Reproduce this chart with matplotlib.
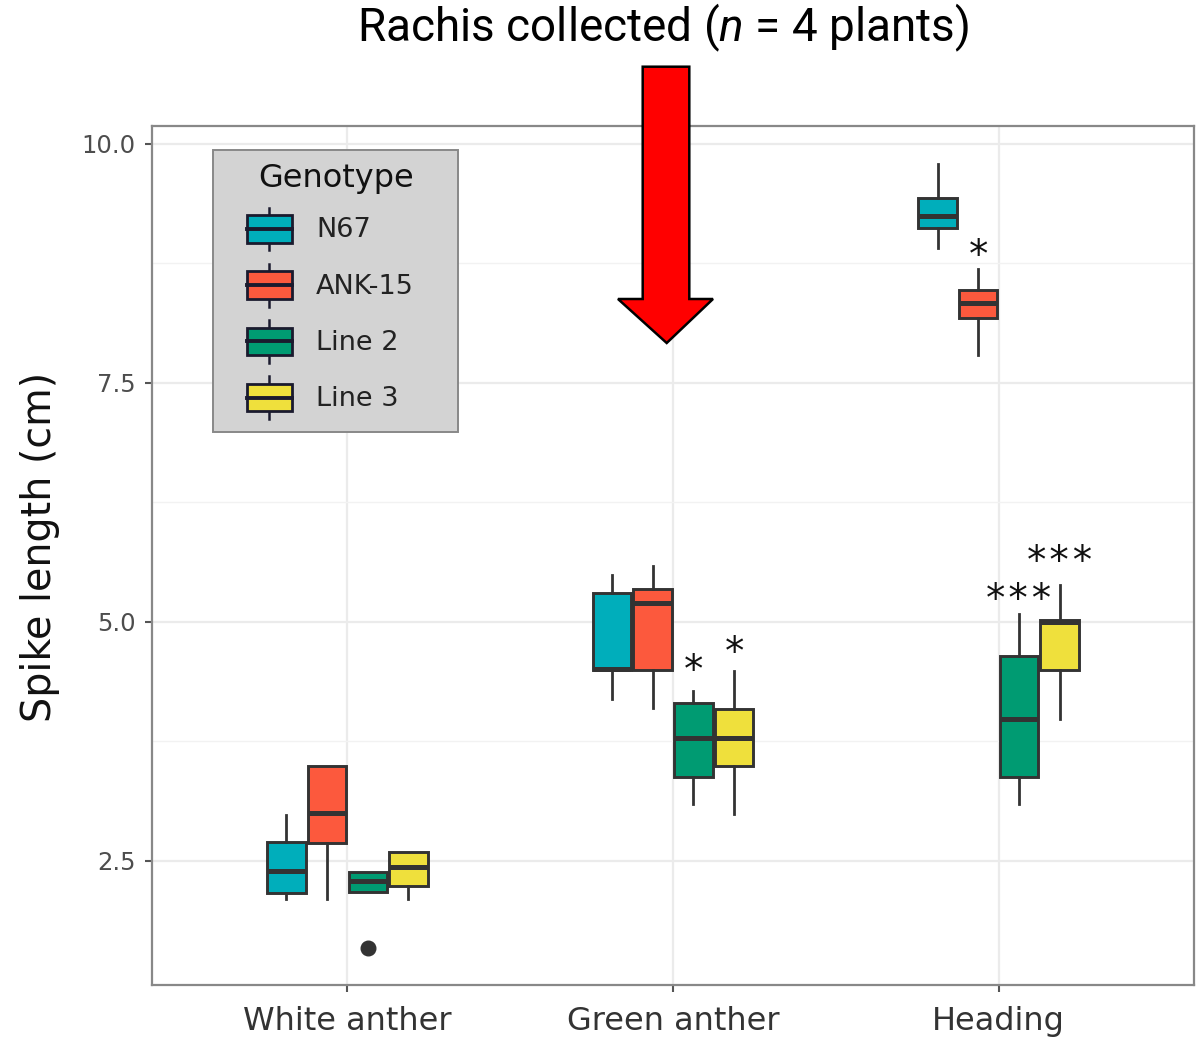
import matplotlib
matplotlib.use("Agg")
import matplotlib.pyplot as plt
from matplotlib.legend_handler import HandlerBase
from matplotlib.patches import Rectangle, Polygon
from matplotlib.lines import Line2D

# ---------------- data ----------------
stages = ["White anther", "Green anther", "Heading"]
genotypes = ["N67", "ANK-15", "Line 2", "Line 3"]
colors = ["#00AEBB", "#FC593D", "#009B72", "#EFE03C"]

# five-number summaries per stage: (whisker low, Q1, median, Q3, whisker high)
n67 = [(2.10, 2.16, 2.40, 2.70, 2.98), (4.19, 4.50, 4.51, 5.30, 5.49), (8.91, 9.12, 9.25, 9.43, 9.79)]
ank15 = [(2.10, 2.69, 3.00, 3.49, 3.49), (4.10, 4.50, 5.20, 5.34, 5.59), (7.79, 8.18, 8.34, 8.47, 8.69)]
line2 = [(2.18, 2.18, 2.29, 2.39, 2.39), (3.10, 3.38, 3.79, 4.15, 4.28), (3.10, 3.38, 3.99, 4.64, 5.08)]
line3 = [(2.10, 2.24, 2.44, 2.59, 2.59), (2.99, 3.49, 3.79, 4.09, 4.49), (3.99, 4.50, 5.00, 5.02, 5.39)]
summaries = [n67, ank15, line2, line3]
outliers = {(2, 0): [1.59]}  # (genotype index, stage index): values

# significance labels: (stage index, genotype index, label, label height)
sig_stage = [1, 1, 2, 2, 2]
sig_geno = [2, 3, 1, 2, 3]
sig_text = ["*", "*", "*", "***", "***"]
sig_y = [4.59, 4.78, 8.93, 5.33, 5.735]

yticks = [2.5, 5.0, 7.5, 10.0]
ytick_labels = ["2.5", "5.0", "7.5", "10.0"]
title_text = "Rachis collected ($n$ = 4 plants)"

# ---------------- style ----------------
plt.rcParams["font.family"] = ["DejaVu Sans"]
plt.rcParams["mathtext.fontset"] = "custom"
plt.rcParams["mathtext.rm"] = "Roboto"
plt.rcParams["mathtext.it"] = "Roboto:italic"

W, H, DPI = 1202, 1040, 100
fig = plt.figure(figsize=(W / DPI, H / DPI), dpi=DPI)
AX_L, AX_R, AX_T, AX_B = 152, 1194, 125.7, 985
ax = fig.add_axes([AX_L / W, 1 - AX_B / H, (AX_R - AX_L) / W, (AX_B - AX_T) / H])


def ax_frac(px, py):
    return (px - AX_L) / (AX_R - AX_L), (AX_B - py) / (AX_B - AX_T)


edge = "#333333"
dodge = [-0.1875, -0.0625, 0.0625, 0.1875]
bw = 0.118

for gi, (g, summ) in enumerate(zip(genotypes, summaries)):
    stats = []
    for si, s in enumerate(summ):
        stats.append(dict(whislo=s[0], q1=s[1], med=s[2], q3=s[3], whishi=s[4],
                          fliers=outliers.get((gi, si), []), label=g))
    pos = [si + 1 + dodge[gi] for si in range(len(summ))]
    ax.bxp(stats, positions=pos, widths=bw, patch_artist=True, showcaps=False,
           boxprops=dict(facecolor=colors[gi], edgecolor=edge, linewidth=2.1),
           medianprops=dict(color=edge, linewidth=3.6, solid_capstyle="butt"),
           whiskerprops=dict(color=edge, linewidth=2.0),
           flierprops=dict(marker="o", markersize=10.5, markerfacecolor=edge,
                           markeredgecolor=edge),
           manage_ticks=False, zorder=3)

for si, gi, t, yv in zip(sig_stage, sig_geno, sig_text, sig_y):
    ax.annotate(t, xy=(si + 1 + dodge[gi], yv), xytext=(0, -15), textcoords="offset points",
                ha="center", va="baseline", fontsize=28, family="DejaVu Sans Mono",
                color="#111111", zorder=4)

ax.set_xlim(0.4, 3.6)
ax.set_ylim(1.203, 10.19)
ax.set_xticks([1, 2, 3])
ax.set_xticklabels(stages, fontsize=23, color="#333333")
ax.set_yticks(yticks)
ax.set_yticklabels(ytick_labels, fontsize=17.5, color="#4D4D4D")
ax.set_yticks([3.75, 6.25, 8.75], minor=True)
ax.grid(True, which="major", color="#EBEBEB", linewidth=1.6, zorder=0)
ax.grid(True, which="minor", axis="y", color="#F2F2F2", linewidth=1.0, zorder=0)
ax.set_axisbelow(True)
ax.tick_params(axis="both", which="major", length=5, width=1.5, color="#555555")
ax.tick_params(axis="x", which="major", pad=10)
ax.tick_params(axis="y", which="major", pad=7)
ax.tick_params(axis="y", which="minor", length=0)
for sp in ax.spines.values():
    sp.set_color("#888888")
    sp.set_linewidth(1.6)
ax.set_ylabel("Spike length (cm)", fontsize=28.5, color="#111111")
ax.yaxis.set_label_coords(*ax_frac(60, 547))


class BoxHandler(HandlerBase):
    def create_artists(self, legend, orig_handle, xdescent, ydescent, width, height,
                       fontsize, trans):
        fc = orig_handle.get_facecolor()
        x0, y0 = -xdescent, -ydescent
        bh = height * 0.64
        by = y0 + (height - bh) / 2
        xc = x0 + width / 2
        ec = "#1a1a2e"
        rect = Rectangle((x0, by), width, bh, facecolor=fc, edgecolor=ec,
                         linewidth=2.0, transform=trans)
        med = Line2D([x0, x0 + width], [y0 + height / 2] * 2, color=ec,
                     linewidth=2.8, transform=trans)
        w1 = Line2D([xc, xc], [y0, by], color=ec, linewidth=1.8, transform=trans)
        w2 = Line2D([xc, xc], [by + bh, y0 + height], color=ec, linewidth=1.8,
                    transform=trans)
        return [w1, w2, rect, med]


# legend background panel (behind the legend entries)
lx0, ly0 = ax_frac(213, 432)
lx1, ly1 = ax_frac(458, 150)
ax.add_patch(Rectangle((lx0, ly0), lx1 - lx0, ly1 - ly0, transform=ax.transAxes,
                       facecolor="#D3D3D3", edgecolor="#888888", linewidth=1.4, zorder=5))

handles = [Rectangle((0, 0), 1, 1, facecolor=c) for c in colors]
leg = ax.legend(handles, genotypes, handler_map={Rectangle: BoxHandler()},
                loc="upper left", bbox_to_anchor=ax_frac(247, 163),
                borderaxespad=0, borderpad=0, title="Genotype", fontsize=19.5,
                title_fontsize=23, frameon=False, handlelength=1.65, handleheight=2.05,
                handletextpad=0.9, labelspacing=0.5, alignment="right")
leg.set_zorder(6)
leg.get_title().set_color("#111111")
for t in leg.get_texts():
    t.set_color("#222222")

# title and red arrow (figure decoration)
fig.text(663 / W, 1 - 28 / H, title_text, ha="center", va="center", fontsize=33,
         family="Roboto", color="black")
arrow_px = [(642.7, 66.7), (689.3, 66.7), (689.3, 299), (713, 299), (666.7, 343),
            (618, 299), (642.7, 299)]
arrow = Polygon([(x / W, 1 - y / H) for x, y in arrow_px], closed=True,
                transform=fig.transFigure, facecolor="#FF0000", edgecolor="black",
                linewidth=1.8, zorder=10)
fig.patches.append(arrow)

fig.savefig("out.png", dpi=DPI)
